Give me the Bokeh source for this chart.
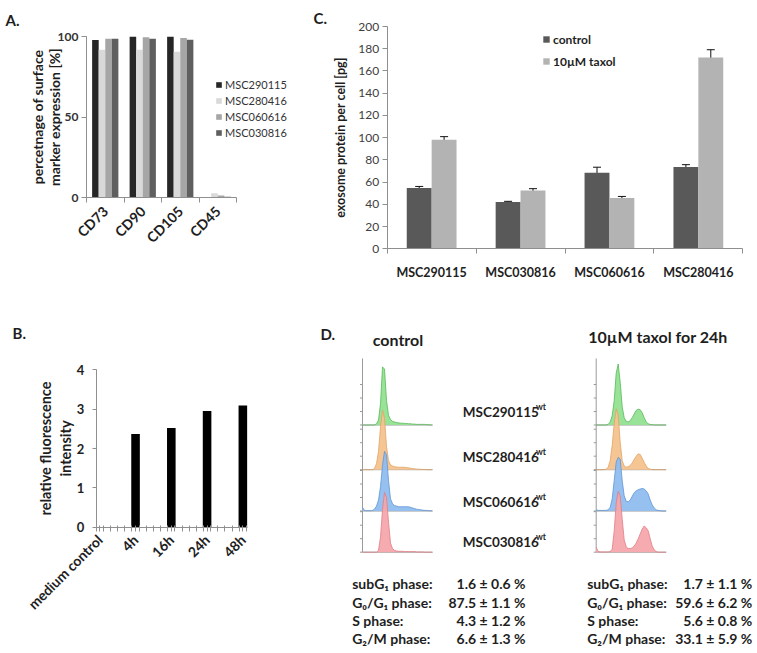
import numpy as np
from math import pi
from bokeh.plotting import figure
from bokeh.models import (Range1d, FixedTicker, Legend, LegendItem,
                          Whisker, TeeHead, ColumnDataSource)
from bokeh.layouts import column, row
from bokeh.embed import file_html
from bokeh.resources import INLINE
from bokeh.core.properties import value

FONT = "Lato"
INK = "#1e1e1e"
AXIS_GREY = "#8f8f8f"

# ---------------- data ----------------
# Panel A: surface marker expression [%]
a_markers = ["CD73", "CD90", "CD105", "CD45"]
a_series = ["MSC290115", "MSC280416", "MSC060616", "MSC030816"]
a_msc290115 = [97.8, 99.8, 99.8, 0.3]
a_msc280416 = [91.8, 91.8, 90.5, 2.6]
a_msc060616 = [98.6, 99.6, 99.0, 1.3]
a_msc030816 = [98.6, 98.6, 98.0, 0.5]
a_yticks = [0, 50, 100]

# Panel B: relative fluorescence intensity
b_conditions = ["medium control", "4h", "16h", "24h", "48h"]
b_intensity = [0.0, 2.37, 2.52, 2.95, 3.09]
b_yticks = [0, 1, 2, 3, 4]

# Panel C: exosome protein per cell [pg]
c_lines = ["MSC290115", "MSC030816", "MSC060616", "MSC280416"]
c_control = [54.6, 42.0, 68.4, 73.6]
c_control_err = [1.5, 0.7, 5.0, 2.1]
c_taxol = [98.2, 52.5, 45.6, 172.1]
c_taxol_err = [2.7, 1.6, 1.5, 7.0]
c_yticks = [0, 20, 40, 60, 80, 100, 120, 140, 160, 180, 200]

# Panel D: DNA content histograms (% of mode per channel)
d_lines = ["MSC290115", "MSC280416", "MSC060616", "MSC030816"]
d_channels = [0, 1, 2, 3, 4, 5, 6, 7, 8, 9, 10, 11, 12, 13, 14, 15, 16, 17,
              18, 19, 20, 21, 22, 23, 24, 25, 26, 27, 28, 29, 30, 31, 32, 33, 34, 35]
d_ctrl_290115 = [0, 0, 0, 0, 0, 0, 0, 2, 8, 35, 95, 92, 40, 16, 9, 6, 5, 4, 3.5, 3,
                 3, 2.5, 2.5, 2, 2, 1.5, 1.5, 1, 1, 1, 1, 1, 0.5, 0.5, 0, 0]
d_ctrl_280416 = [0, 0, 0, 0, 0, 0, 2, 10, 30, 70, 98, 85, 38, 15, 8, 6, 5, 4.5, 4, 4,
                 4, 4, 3.5, 3, 2.5, 2, 1.5, 1, 1, 0.5, 0.5, 0.5, 0, 0, 0, 0]
d_ctrl_060616 = [6, 1, 0.5, 0.5, 0.5, 1, 3, 8, 18, 40, 75, 98, 92, 50, 20, 12, 9, 8, 7, 7,
                 7, 7, 7, 7, 6, 5, 4, 3, 2.5, 2, 1.5, 1, 1, 0.5, 0.5, 0]
d_ctrl_030816 = [0, 0, 0, 0, 0, 0, 0, 0, 3, 25, 70, 98, 90, 50, 15, 6, 3, 2, 1.5, 1.5,
                 1.5, 1, 1, 1, 1, 1, 1, 0.5, 0.5, 0.5, 0.5, 0, 0, 0, 0, 0]
d_taxol_290115 = [0, 0, 0, 0, 0, 0, 1, 5, 15, 40, 85, 100, 70, 30, 12, 6, 5, 7, 12, 18,
                  24, 26, 25, 20, 12, 5, 2, 1, 0.5, 0, 0, 0, 0, 0, 0, 0]
d_taxol_280416 = [0, 0, 0, 0, 0, 1, 4, 15, 40, 75, 100, 90, 45, 15, 6, 4, 5, 7, 11, 17,
                  22, 26, 25, 19, 12, 6, 2, 1, 0, 0, 0, 0, 0, 0, 0, 0]
d_taxol_060616 = [2, 1, 1, 1, 1, 1, 2, 6, 20, 50, 80, 88, 85, 50, 25, 16, 15, 18, 24, 30,
                  33, 35, 36, 37, 36, 33, 28, 18, 10, 5, 2, 1, 0.5, 0, 0, 0]
d_taxol_030816 = [8, 1, 0.5, 0.5, 0.5, 0.5, 0.5, 1, 5, 35, 80, 100, 92, 55, 20, 9, 6, 6, 7, 10,
                  15, 22, 30, 38, 43, 40, 35, 22, 10, 4, 1, 0, 0, 0, 0, 0]
d_stat_labels = ["subG\u2081 phase:", "G\u2080/G\u2081 phase:", "S phase:", "G\u2082/M phase:"]
d_ctrl_stats = ["1.6 \u00b1 0.6 %", "87.5 \u00b1 1.1 %", "4.3 \u00b1 1.2 %", "6.6 \u00b1 1.3 %"]
d_taxol_stats = ["1.7 \u00b1 1.1 %", "59.6 \u00b1 6.2 %", "5.6 \u00b1 0.8 %", "33.1 \u00b1 5.9 %"]


# ---------------- helpers ----------------
def span(lo_px, hi_px, px_a, val_a, px_b, val_b):
    """Data values at two canvas pixels, for an axis anchored at (px_a->val_a), (px_b->val_b)."""
    k = (val_b - val_a) / (px_b - px_a)
    return val_a + (lo_px - px_a) * k, val_a + (hi_px - px_a) * k


def base_fig(box, xr, yr, **kw):
    x0, y0, x1, y1 = box
    p = figure(width=x1 - x0, height=y1 - y0, x_range=xr, y_range=yr,
               toolbar_location=None, output_backend="svg",
               min_border_left=0, min_border_right=0, min_border_top=0, min_border_bottom=0,
               **kw)
    p.grid.visible = False
    p.outline_line_color = None
    p.background_fill_color = "white"
    p.border_fill_color = "white"
    return p


def to_data(p, box, sx, sy):
    x0, y0, x1, y1 = box
    xr, yr = p.x_range, p.y_range
    x = xr.start + (sx - x0) / (x1 - x0) * (xr.end - xr.start)
    y = yr.start + (y1 - sy) / (y1 - y0) * (yr.end - yr.start)
    return x, y


def style_axis(ax, size, bold, color=INK):
    ax.axis_line_color = AXIS_GREY
    ax.major_tick_line_color = AXIS_GREY
    ax.minor_tick_line_color = AXIS_GREY
    ax.major_label_text_font = FONT
    ax.major_label_text_font_size = size
    ax.major_label_text_font_style = "bold" if bold else "normal"
    ax.major_label_text_color = color
    ax.axis_label_text_font = FONT
    ax.axis_label_text_font_style = "bold"
    ax.axis_label_text_color = INK


def panel_letter(p, box, sx, sy, text):
    x, y = to_data(p, box, sx, sy)
    p.text(x=[x], y=[y], text=[text], text_font=value(FONT), text_font_style="bold",
           text_font_size="15px", text_baseline="top", text_align="left", text_color=INK)


# page boxes (page px: left, top, right, bottom); Bokeh's page has no body margin
BOX_A = (0, 0, 290, 300)
BOX_C = (290, 0, 756, 300)
BOX_B = (0, 300, 290, 652)
BOX_D = (290, 300, 756, 652)

# ---------------- Panel A ----------------
ax0, ax1 = span(BOX_A[0], BOX_A[2], 86, 0, 236, 4)
ay0, ay1 = span(BOX_A[3], BOX_A[1], 197, 0, 36, 100)
pa = base_fig(BOX_A, Range1d(ax0, ax1), Range1d(ay0, ay1))
a_centers = np.arange(len(a_markers)) + 0.5
a_vals = [a_msc290115, a_msc280416, a_msc060616, a_msc030816]
a_colors = ["#262626", "#d9d9d9", "#a6a6a6", "#5f5f5f"]
a_offsets = [-0.2625, -0.0875, 0.0875, 0.2625]
a_items = []
for name, vals, col, off in zip(a_series, a_vals, a_colors, a_offsets):
    r = pa.vbar(x=a_centers + off, top=vals, width=0.175, fill_color=col, line_color=None)
    a_items.append(LegendItem(label=name, renderers=[r]))

style_axis(pa.yaxis[0], "12px", True, "#333333")
pa.yaxis.fixed_location = 0
pa.yaxis.bounds = (0, 100)
pa.yaxis.ticker = FixedTicker(ticks=a_yticks)
pa.yaxis.major_tick_out = 5
pa.yaxis.major_tick_in = 0
pa.yaxis.major_label_standoff = 3
pa.yaxis.axis_label = "percetnage of surface\nmarker expression [%]"
pa.yaxis.axis_label_text_font_size = "14px"
pa.yaxis.axis_label_text_line_height = 0.95
pa.yaxis.axis_label_standoff = -8

style_axis(pa.xaxis[0], "14px", True, INK)
pa.xaxis.fixed_location = 0
pa.xaxis.bounds = (0, len(a_markers))
pa.xaxis.ticker = FixedTicker(ticks=list(a_centers), minor_ticks=list(np.arange(len(a_markers) + 1)))
pa.xaxis.major_label_overrides = {float(c): m for c, m in zip(a_centers, a_markers)}
pa.xaxis.major_tick_line_color = None
pa.xaxis.major_tick_out = 0
pa.xaxis.minor_tick_out = 5
pa.xaxis.minor_tick_in = 0
pa.xaxis.major_label_orientation = pi / 4
pa.xaxis.major_label_standoff = 6

a_legend = Legend(items=a_items, location=(215, 161), glyph_width=7, glyph_height=7,
                  label_height=14, spacing=2, padding=0, margin=0, label_standoff=3,
                  border_line_color=None, background_fill_alpha=0,
                  label_text_font=FONT, label_text_font_size="11px",
                  label_text_color="#333333")
pa.add_layout(a_legend)
panel_letter(pa, BOX_A, 5, 10, "A.")

# ---------------- Panel C ----------------
cx0, cx1 = span(BOX_C[0], BOX_C[2], 386.7, 0, 742.3, 4)
cy0, cy1 = span(BOX_C[3], BOX_C[1], 248.3, 0, 26, 200)
pc = base_fig(BOX_C, Range1d(cx0, cx1), Range1d(cy0, cy1))
c_centers = np.arange(len(c_lines)) + 0.5
rc1 = pc.vbar(x=c_centers - 0.14, top=c_control, width=0.28, fill_color="#595959", line_color=None)
rc2 = pc.vbar(x=c_centers + 0.14, top=c_taxol, width=0.28, fill_color="#b3b3b3", line_color=None)
err_src = ColumnDataSource(dict(
    x=np.concatenate([c_centers - 0.14, c_centers + 0.14]),
    upper=np.concatenate([np.array(c_control) + np.array(c_control_err),
                          np.array(c_taxol) + np.array(c_taxol_err)]),
    lower=np.concatenate([np.array(c_control) - np.array(c_control_err),
                          np.array(c_taxol) - np.array(c_taxol_err)]),
))
pc.add_layout(Whisker(source=err_src, base="x", upper="upper", lower="lower",
                      line_color="#111111", line_width=1,
                      upper_head=TeeHead(size=8, line_color="#111111", line_width=1),
                      lower_head=TeeHead(size=8, line_color="#111111", line_width=1)))

style_axis(pc.yaxis[0], "12px", False, "#404040")
pc.yaxis.fixed_location = 0
pc.yaxis.bounds = (0, 200)
pc.yaxis.ticker = FixedTicker(ticks=c_yticks)
pc.yaxis.major_tick_out = 5
pc.yaxis.major_tick_in = 0
pc.yaxis.major_label_standoff = 3
pc.yaxis.axis_label = "exosome protein per cell [pg]"
pc.yaxis.axis_label_text_font_size = "12.5px"
pc.yaxis.axis_label_standoff = 8

style_axis(pc.xaxis[0], "12.5px", True, INK)
pc.xaxis.fixed_location = 0
pc.xaxis.bounds = (0, len(c_lines))
pc.xaxis.ticker = FixedTicker(ticks=list(c_centers), minor_ticks=list(np.arange(len(c_lines) + 1)))
pc.xaxis.major_label_overrides = {float(c): m for c, m in zip(c_centers, c_lines)}
pc.xaxis.major_tick_line_color = None
pc.xaxis.major_tick_out = 0
pc.xaxis.minor_tick_out = 5
pc.xaxis.minor_tick_in = 0
pc.xaxis.major_label_standoff = 11

c_legend = Legend(items=[LegendItem(label="control", renderers=[rc1]),
                         LegendItem(label="10\u00b5M taxol", renderers=[rc2])],
                  location=(252, 229), glyph_width=8, glyph_height=8,
                  label_height=20, spacing=2, padding=0, margin=0, label_standoff=3,
                  border_line_color=None, background_fill_alpha=0,
                  label_text_font=FONT, label_text_font_size="12px",
                  label_text_font_style="bold", label_text_color=INK)
pc.add_layout(c_legend)
panel_letter(pc, BOX_C, 313, 8, "C.")

# ---------------- Panel B ----------------
bx0, bx1 = span(BOX_B[0], BOX_B[2], 95.7, -0.1, 247, 4.13)
by0, by1 = span(BOX_B[3], BOX_B[1], 526.7, 0, 369.3, 4)
pb = base_fig(BOX_B, Range1d(bx0, bx1), Range1d(by0, by1))
b_pos = np.arange(len(b_conditions))
pb.vbar(x=b_pos, top=b_intensity, width=0.24, fill_color="#000000", line_color=None)

style_axis(pb.yaxis[0], "13px", True, INK)
pb.yaxis.fixed_location = -0.1
pb.yaxis.bounds = (0, 4)
pb.yaxis.ticker = FixedTicker(ticks=b_yticks)
pb.yaxis.major_tick_out = 4
pb.yaxis.major_tick_in = 0
pb.yaxis.major_label_standoff = 8
pb.yaxis.axis_label = "relative fluorescence\nintensity"
pb.yaxis.axis_label_text_font_size = "14.5px"
pb.yaxis.axis_label_text_line_height = 1.2
pb.yaxis.axis_label_standoff = 0

style_axis(pb.xaxis[0], "14px", True, INK)
pb.xaxis.fixed_location = 0
pb.xaxis.bounds = (-0.1, 4.13)
pb.xaxis.ticker = FixedTicker(ticks=list(b_pos),
                              minor_ticks=list(np.arange(-0.1, 4.15, 0.2)))
pb.xaxis.major_label_overrides = {int(i): c for i, c in zip(b_pos, b_conditions)}
pb.xaxis.major_tick_out = 4
pb.xaxis.major_tick_in = 2
pb.xaxis.minor_tick_out = 4
pb.xaxis.minor_tick_in = 2
pb.xaxis.major_label_orientation = pi / 4
pb.xaxis.major_label_standoff = 6
panel_letter(pb, BOX_B, 12, 323, "B.")

# ---------------- Panel D ----------------
pd = base_fig(BOX_D, Range1d(BOX_D[0], BOX_D[2]), Range1d(BOX_D[3], BOX_D[1]),
              x_axis_location=None, y_axis_location=None)

CH_PX = 2.0      # pixels per channel
PCT_PX = 0.61    # pixels per % of mode
bases = [424.5, 469.2, 510.5, 551.7]
fills = ["#93e193", "#f6c28e", "#8fbdef", "#f4a6ab"]
edges = ["#55b955", "#e0a565", "#5f95d3", "#e07d85"]
stacks = [
    (362.0, [d_ctrl_290115, d_ctrl_280416, d_ctrl_060616, d_ctrl_030816]),
    (595.7, [d_taxol_290115, d_taxol_280416, d_taxol_060616, d_taxol_030816]),
]
ch = np.array(d_channels, dtype=float)
for x0, hists in stacks:
    xs = x0 + ch * CH_PX
    pd.segment(x0=[x0], y0=[358], x1=[x0], y1=[bases[-1]], line_color="#9a9a9a", line_width=1)
    tx, ty = [], []
    for b in bases:
        for k in range(4):
            tx.append(x0)
            ty.append(b - k * 13.5)
    pd.segment(x0=tx, y0=ty, x1=[x - 2.5 for x in tx], y1=ty, line_color="#9a9a9a", line_width=1)
    for b, hist, fc, ec in zip(bases, hists, fills, edges):
        top = b - np.array(hist) * PCT_PX
        pd.line(x=[x0, xs[-1]], y=[b, b], line_color="#9a9a9a", line_width=1)
        pd.varea(x=xs, y1=np.full_like(xs, b), y2=top, fill_color=fc, fill_alpha=0.95)
        pd.line(x=xs, y=top, line_color=ec, line_width=0.8)

bold = dict(text_font=value(FONT), text_font_style="bold", text_color=INK)
pd.text(x=[320], y=[324], text=["D."], text_font_size="15px",
        text_align="left", text_baseline="top", **bold)
pd.text(x=[397.5, 657.5], y=[339, 336], text=["control", "10\u00b5M taxol for 24h"],
        text_font_size="16px", text_align="center", text_baseline="middle", **bold)
label_y = [411, 456.7, 501.7, 541]
pd.text(x=[462.3] * 4, y=label_y, text=d_lines, text_font_size="13.5px",
        text_align="left", text_baseline="middle", **bold)
pd.text(x=[535.5] * 4, y=[y - 5 for y in label_y], text=["wt"] * 4, text_font_size="8.5px",
        text_align="left", text_baseline="middle", **bold)
row_y = [583.3, 601.7, 620, 638.3]
pd.text(x=[351.7] * 4, y=row_y, text=d_stat_labels, text_font_size="14px",
        text_align="left", text_baseline="middle", **bold)
pd.text(x=[525] * 4, y=row_y, text=d_ctrl_stats, text_font_size="14px",
        text_align="right", text_baseline="middle", **bold)
pd.text(x=[586.7] * 4, y=row_y, text=d_stat_labels, text_font_size="14px",
        text_align="left", text_baseline="middle", **bold)
pd.text(x=[751.7] * 4, y=row_y, text=d_taxol_stats, text_font_size="14px",
        text_align="right", text_baseline="middle", **bold)

layout = column(row(pa, pc), row(pb, pd))
open("out.html", "w").write(file_html(layout, INLINE))
